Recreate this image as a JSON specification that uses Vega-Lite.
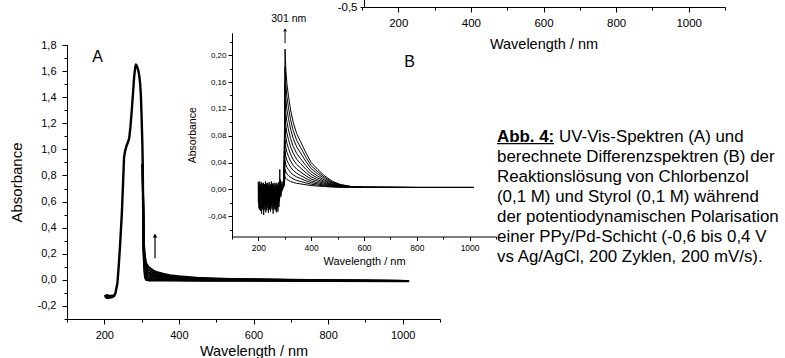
{
"$schema": "https://vega.github.io/schema/vega-lite/v6.json",
"width": 785, "height": 358, "autosize": {"type": "none"}, "padding": 0, "background": "white",
"config": {"view": {"stroke": null}, "locale": {"number": {"decimal": ",", "thousands": ".", "grouping": [3], "currency": ["", " €"], "minus": "-"}}, "axis": {"domainColor": "black", "tickColor": "black", "labelColor": "black", "titleColor": "black", "labelFont": "Liberation Sans", "titleFont": "Liberation Sans", "titleFontWeight": "normal", "grid": false, "domainWidth": 1, "tickWidth": 1, "labelOverlap": false, "labelFlush": false}},
"datasets": {
"A_main": [
{"w":202,"a":-0.115},{"w":204,"a":-0.132},{"w":205,"a":-0.12},{"w":207,"a":-0.138},{"w":208,"a":-0.118},{"w":210,"a":-0.14},{"w":212,"a":-0.122},{"w":214,"a":-0.136},{"w":216,"a":-0.121},{"w":218,"a":-0.135},{"w":220,"a":-0.124},{"w":222,"a":-0.132},{"w":224,"a":-0.12},{"w":226,"a":-0.125},{"w":228,"a":-0.112},{"w":230,"a":-0.1},{"w":232,"a":-0.07},{"w":235,"a":-0.03},{"w":238,"a":0.08},{"w":242,"a":0.25},{"w":247,"a":0.51},{"w":250,"a":0.72},{"w":253,"a":0.94},{"w":256,"a":0.99},{"w":260,"a":1.03},{"w":264,"a":1.06},{"w":267,"a":1.09},{"w":270,"a":1.17},{"w":273,"a":1.275},{"w":277,"a":1.43},{"w":280,"a":1.556},{"w":283,"a":1.63},{"w":285,"a":1.65},{"w":288,"a":1.635},{"w":291,"a":1.607},{"w":294,"a":1.56},{"w":296,"a":1.505},{"w":298,"a":1.42},{"w":300,"a":1.25},{"w":302,"a":1.05},{"w":303,"a":0.89},{"w":304,"a":0.6},{"w":305,"a":0.35},{"w":306,"a":0.18},{"w":308,"a":0.06},{"w":310,"a":0.015},{"w":313,"a":0.0},{"w":320,"a":-0.003},{"w":360,"a":-0.004},{"w":450,"a":-0.005},{"w":600,"a":-0.006},{"w":800,"a":-0.008},{"w":1017,"a":-0.01}
],
"A_tail": [
{"s":"t1","w":303,"a":0.89},{"s":"t1","w":304,"a":0.6},{"s":"t1","w":305,"a":0.4},{"s":"t1","w":306,"a":0.28},{"s":"t1","w":309,"a":0.18},{"s":"t1","w":312,"a":0.13},{"s":"t1","w":318,"a":0.1},{"s":"t1","w":330,"a":0.075},{"s":"t1","w":340,"a":0.06},{"s":"t1","w":360,"a":0.045},{"s":"t1","w":376,"a":0.035},{"s":"t1","w":400,"a":0.027},{"s":"t1","w":448,"a":0.017},{"s":"t1","w":500,"a":0.01},{"s":"t1","w":537,"a":0.007},{"s":"t1","w":600,"a":0.004},{"s":"t1","w":700,"a":0.0},{"s":"t1","w":850,"a":-0.005},{"s":"t1","w":1017,"a":-0.009},
{"s":"t2","w":303,"a":0.89},{"s":"t2","w":304,"a":0.6},{"s":"t2","w":305,"a":0.39},{"s":"t2","w":306,"a":0.25},{"s":"t2","w":309,"a":0.15},{"s":"t2","w":312,"a":0.105},{"s":"t2","w":318,"a":0.08},{"s":"t2","w":330,"a":0.058},{"s":"t2","w":340,"a":0.047},{"s":"t2","w":360,"a":0.035},{"s":"t2","w":376,"a":0.027},{"s":"t2","w":400,"a":0.02},{"s":"t2","w":448,"a":0.012},{"s":"t2","w":500,"a":0.007},{"s":"t2","w":537,"a":0.005},{"s":"t2","w":600,"a":0.002},{"s":"t2","w":700,"a":-0.001},{"s":"t2","w":850,"a":-0.005},{"s":"t2","w":1017,"a":-0.009},
{"s":"t3","w":303,"a":0.89},{"s":"t3","w":304,"a":0.6},{"s":"t3","w":305,"a":0.38},{"s":"t3","w":306,"a":0.23},{"s":"t3","w":309,"a":0.12},{"s":"t3","w":312,"a":0.08},{"s":"t3","w":318,"a":0.06},{"s":"t3","w":330,"a":0.043},{"s":"t3","w":340,"a":0.034},{"s":"t3","w":360,"a":0.025},{"s":"t3","w":376,"a":0.019},{"s":"t3","w":400,"a":0.014},{"s":"t3","w":448,"a":0.008},{"s":"t3","w":500,"a":0.004},{"s":"t3","w":537,"a":0.002},{"s":"t3","w":600,"a":0.0},{"s":"t3","w":700,"a":-0.002},{"s":"t3","w":850,"a":-0.006},{"s":"t3","w":1017,"a":-0.009},
{"s":"t4","w":303,"a":0.89},{"s":"t4","w":304,"a":0.6},{"s":"t4","w":305,"a":0.37},{"s":"t4","w":306,"a":0.21},{"s":"t4","w":309,"a":0.095},{"s":"t4","w":312,"a":0.06},{"s":"t4","w":318,"a":0.042},{"s":"t4","w":330,"a":0.03},{"s":"t4","w":340,"a":0.023},{"s":"t4","w":360,"a":0.016},{"s":"t4","w":376,"a":0.012},{"s":"t4","w":400,"a":0.008},{"s":"t4","w":448,"a":0.004},{"s":"t4","w":500,"a":0.001},{"s":"t4","w":537,"a":0.0},{"s":"t4","w":600,"a":-0.001},{"s":"t4","w":700,"a":-0.003},{"s":"t4","w":850,"a":-0.006},{"s":"t4","w":1017,"a":-0.009},
{"s":"t5","w":303,"a":0.89},{"s":"t5","w":304,"a":0.6},{"s":"t5","w":305,"a":0.36},{"s":"t5","w":306,"a":0.2},{"s":"t5","w":309,"a":0.075},{"s":"t5","w":312,"a":0.04},{"s":"t5","w":318,"a":0.025},{"s":"t5","w":330,"a":0.017},{"s":"t5","w":340,"a":0.012},{"s":"t5","w":360,"a":0.008},{"s":"t5","w":376,"a":0.005},{"s":"t5","w":400,"a":0.003},{"s":"t5","w":448,"a":0.0},{"s":"t5","w":500,"a":-0.002},{"s":"t5","w":537,"a":-0.002},{"s":"t5","w":600,"a":-0.003},{"s":"t5","w":700,"a":-0.004},{"s":"t5","w":850,"a":-0.006},{"s":"t5","w":1017,"a":-0.009},
{"s":"t6","w":303,"a":0.89},{"s":"t6","w":304,"a":0.6},{"s":"t6","w":305,"a":0.355},{"s":"t6","w":306,"a":0.19},{"s":"t6","w":309,"a":0.06},{"s":"t6","w":312,"a":0.022},{"s":"t6","w":318,"a":0.01},{"s":"t6","w":330,"a":0.005},{"s":"t6","w":340,"a":0.003},{"s":"t6","w":360,"a":0.001},{"s":"t6","w":376,"a":0.0},{"s":"t6","w":400,"a":-0.001},{"s":"t6","w":448,"a":-0.003},{"s":"t6","w":500,"a":-0.004},{"s":"t6","w":537,"a":-0.004},{"s":"t6","w":600,"a":-0.004},{"s":"t6","w":700,"a":-0.005},{"s":"t6","w":850,"a":-0.007},{"s":"t6","w":1017,"a":-0.009}
],
"B_curves": [
{"s":"c1","w":293,"a":0.003},{"s":"c1","w":297,"a":0.0236},{"s":"c1","w":299,"a":0.0957},{"s":"c1","w":301,"a":0.209},{"s":"c1","w":304,"a":0.1781},{"s":"c1","w":308,"a":0.1575},{"s":"c1","w":314,"a":0.139},{"s":"c1","w":322,"a":0.1184},{"s":"c1","w":332,"a":0.0998},{"s":"c1","w":345,"a":0.0833},{"s":"c1","w":360,"a":0.071},{"s":"c1","w":380,"a":0.0545},{"s":"c1","w":400,"a":0.0401},{"s":"c1","w":425,"a":0.0298},{"s":"c1","w":450,"a":0.0205},{"s":"c1","w":480,"a":0.0123},{"s":"c1","w":510,"a":0.0075},{"s":"c1","w":550,"a":0.0046},{"s":"c1","w":600,"a":0.0034},{"s":"c1","w":800,"a":0.003},{"s":"c1","w":1016,"a":0.003},
{"s":"c2","w":293,"a":0.003},{"s":"c2","w":297,"a":0.021},{"s":"c2","w":299,"a":0.084},{"s":"c2","w":301,"a":0.183},{"s":"c2","w":304,"a":0.156},{"s":"c2","w":308,"a":0.138},{"s":"c2","w":314,"a":0.1218},{"s":"c2","w":322,"a":0.1038},{"s":"c2","w":332,"a":0.0876},{"s":"c2","w":345,"a":0.0732},{"s":"c2","w":360,"a":0.0624},{"s":"c2","w":380,"a":0.048},{"s":"c2","w":400,"a":0.0354},{"s":"c2","w":425,"a":0.0264},{"s":"c2","w":450,"a":0.0183},{"s":"c2","w":480,"a":0.0111},{"s":"c2","w":510,"a":0.007},{"s":"c2","w":550,"a":0.0044},{"s":"c2","w":600,"a":0.0034},{"s":"c2","w":800,"a":0.003},{"s":"c2","w":1016,"a":0.003},
{"s":"c3","w":293,"a":0.003},{"s":"c3","w":297,"a":0.0185},{"s":"c3","w":299,"a":0.0728},{"s":"c3","w":301,"a":0.158},{"s":"c3","w":304,"a":0.1348},{"s":"c3","w":308,"a":0.1193},{"s":"c3","w":314,"a":0.1053},{"s":"c3","w":322,"a":0.0898},{"s":"c3","w":332,"a":0.0759},{"s":"c3","w":345,"a":0.0635},{"s":"c3","w":360,"a":0.0542},{"s":"c3","w":380,"a":0.0418},{"s":"c3","w":400,"a":0.0309},{"s":"c3","w":425,"a":0.0232},{"s":"c3","w":450,"a":0.0162},{"s":"c3","w":480,"a":0.01},{"s":"c3","w":510,"a":0.0064},{"s":"c3","w":550,"a":0.0042},{"s":"c3","w":600,"a":0.0033},{"s":"c3","w":800,"a":0.003},{"s":"c3","w":1016,"a":0.003},
{"s":"c4","w":293,"a":0.003},{"s":"c4","w":297,"a":0.016},{"s":"c4","w":299,"a":0.0615},{"s":"c4","w":301,"a":0.133},{"s":"c4","w":304,"a":0.1135},{"s":"c4","w":308,"a":0.1005},{"s":"c4","w":314,"a":0.0888},{"s":"c4","w":322,"a":0.0758},{"s":"c4","w":332,"a":0.0641},{"s":"c4","w":345,"a":0.0537},{"s":"c4","w":360,"a":0.0459},{"s":"c4","w":380,"a":0.0355},{"s":"c4","w":400,"a":0.0264},{"s":"c4","w":425,"a":0.0199},{"s":"c4","w":450,"a":0.0141},{"s":"c4","w":480,"a":0.0089},{"s":"c4","w":510,"a":0.0059},{"s":"c4","w":550,"a":0.004},{"s":"c4","w":600,"a":0.0033},{"s":"c4","w":800,"a":0.003},{"s":"c4","w":1016,"a":0.003},
{"s":"c5","w":293,"a":0.003},{"s":"c5","w":297,"a":0.0138},{"s":"c5","w":299,"a":0.0516},{"s":"c5","w":301,"a":0.111},{"s":"c5","w":304,"a":0.0948},{"s":"c5","w":308,"a":0.084},{"s":"c5","w":314,"a":0.0743},{"s":"c5","w":322,"a":0.0635},{"s":"c5","w":332,"a":0.0538},{"s":"c5","w":345,"a":0.0451},{"s":"c5","w":360,"a":0.0386},{"s":"c5","w":380,"a":0.03},{"s":"c5","w":400,"a":0.0224},{"s":"c5","w":425,"a":0.017},{"s":"c5","w":450,"a":0.0122},{"s":"c5","w":480,"a":0.0079},{"s":"c5","w":510,"a":0.0054},{"s":"c5","w":550,"a":0.0039},{"s":"c5","w":600,"a":0.0032},{"s":"c5","w":800,"a":0.003},{"s":"c5","w":1016,"a":0.003},
{"s":"c6","w":293,"a":0.003},{"s":"c6","w":297,"a":0.0118},{"s":"c6","w":299,"a":0.0426},{"s":"c6","w":301,"a":0.091},{"s":"c6","w":304,"a":0.0778},{"s":"c6","w":308,"a":0.069},{"s":"c6","w":314,"a":0.0611},{"s":"c6","w":322,"a":0.0523},{"s":"c6","w":332,"a":0.0444},{"s":"c6","w":345,"a":0.0373},{"s":"c6","w":360,"a":0.032},{"s":"c6","w":380,"a":0.025},{"s":"c6","w":400,"a":0.0188},{"s":"c6","w":425,"a":0.0144},{"s":"c6","w":450,"a":0.0105},{"s":"c6","w":480,"a":0.007},{"s":"c6","w":510,"a":0.0049},{"s":"c6","w":550,"a":0.0037},{"s":"c6","w":600,"a":0.0032},{"s":"c6","w":800,"a":0.003},{"s":"c6","w":1016,"a":0.003},
{"s":"c7","w":293,"a":0.003},{"s":"c7","w":297,"a":0.01},{"s":"c7","w":299,"a":0.0345},{"s":"c7","w":301,"a":0.073},{"s":"c7","w":304,"a":0.0625},{"s":"c7","w":308,"a":0.0555},{"s":"c7","w":314,"a":0.0492},{"s":"c7","w":322,"a":0.0422},{"s":"c7","w":332,"a":0.0359},{"s":"c7","w":345,"a":0.0303},{"s":"c7","w":360,"a":0.0261},{"s":"c7","w":380,"a":0.0205},{"s":"c7","w":400,"a":0.0156},{"s":"c7","w":425,"a":0.0121},{"s":"c7","w":450,"a":0.009},{"s":"c7","w":480,"a":0.0062},{"s":"c7","w":510,"a":0.0045},{"s":"c7","w":550,"a":0.0036},{"s":"c7","w":600,"a":0.0031},{"s":"c7","w":800,"a":0.003},{"s":"c7","w":1016,"a":0.003},
{"s":"c8","w":293,"a":0.003},{"s":"c8","w":297,"a":0.0084},{"s":"c8","w":299,"a":0.0273},{"s":"c8","w":301,"a":0.057},{"s":"c8","w":304,"a":0.0489},{"s":"c8","w":308,"a":0.0435},{"s":"c8","w":314,"a":0.0386},{"s":"c8","w":322,"a":0.0332},{"s":"c8","w":332,"a":0.0284},{"s":"c8","w":345,"a":0.0241},{"s":"c8","w":360,"a":0.0208},{"s":"c8","w":380,"a":0.0165},{"s":"c8","w":400,"a":0.0127},{"s":"c8","w":425,"a":0.01},{"s":"c8","w":450,"a":0.0076},{"s":"c8","w":480,"a":0.0054},{"s":"c8","w":510,"a":0.0042},{"s":"c8","w":550,"a":0.0034},{"s":"c8","w":600,"a":0.0031},{"s":"c8","w":800,"a":0.003},{"s":"c8","w":1016,"a":0.003},
{"s":"c9","w":293,"a":0.003},{"s":"c9","w":297,"a":0.007},{"s":"c9","w":299,"a":0.021},{"s":"c9","w":301,"a":0.043},{"s":"c9","w":304,"a":0.037},{"s":"c9","w":308,"a":0.033},{"s":"c9","w":314,"a":0.0294},{"s":"c9","w":322,"a":0.0254},{"s":"c9","w":332,"a":0.0218},{"s":"c9","w":345,"a":0.0186},{"s":"c9","w":360,"a":0.0162},{"s":"c9","w":380,"a":0.013},{"s":"c9","w":400,"a":0.0102},{"s":"c9","w":425,"a":0.0082},{"s":"c9","w":450,"a":0.0064},{"s":"c9","w":480,"a":0.0048},{"s":"c9","w":510,"a":0.0039},{"s":"c9","w":550,"a":0.0033},{"s":"c9","w":600,"a":0.0031},{"s":"c9","w":800,"a":0.003},{"s":"c9","w":1016,"a":0.003},
{"s":"c10","w":293,"a":0.003},{"s":"c10","w":297,"a":0.0057},{"s":"c10","w":299,"a":0.0152},{"s":"c10","w":301,"a":0.03},{"s":"c10","w":304,"a":0.026},{"s":"c10","w":308,"a":0.0233},{"s":"c10","w":314,"a":0.0208},{"s":"c10","w":322,"a":0.0181},{"s":"c10","w":332,"a":0.0157},{"s":"c10","w":345,"a":0.0135},{"s":"c10","w":360,"a":0.0119},{"s":"c10","w":380,"a":0.0098},{"s":"c10","w":400,"a":0.0079},{"s":"c10","w":425,"a":0.0065},{"s":"c10","w":450,"a":0.0053},{"s":"c10","w":480,"a":0.0042},{"s":"c10","w":510,"a":0.0036},{"s":"c10","w":550,"a":0.0032},{"s":"c10","w":600,"a":0.003},{"s":"c10","w":800,"a":0.003},{"s":"c10","w":1016,"a":0.003},
{"s":"c11","w":293,"a":0.003},{"s":"c11","w":297,"a":0.0046},{"s":"c11","w":299,"a":0.0102},{"s":"c11","w":301,"a":0.019},{"s":"c11","w":304,"a":0.0166},{"s":"c11","w":308,"a":0.015},{"s":"c11","w":314,"a":0.0136},{"s":"c11","w":322,"a":0.012},{"s":"c11","w":332,"a":0.0105},{"s":"c11","w":345,"a":0.0092},{"s":"c11","w":360,"a":0.0083},{"s":"c11","w":380,"a":0.007},{"s":"c11","w":400,"a":0.0059},{"s":"c11","w":425,"a":0.0051},{"s":"c11","w":450,"a":0.0044},{"s":"c11","w":480,"a":0.0037},{"s":"c11","w":510,"a":0.0034},{"s":"c11","w":550,"a":0.0031},{"s":"c11","w":600,"a":0.003},{"s":"c11","w":800,"a":0.003},{"s":"c11","w":1016,"a":0.003}
],
"B_noise": [
{"w":199,"a":0.012},{"w":200,"a":-0.02},{"w":201,"a":0.01},{"w":202,"a":-0.028},{"w":203,"a":0.006},{"w":204,"a":-0.03},{"w":205,"a":0.012},{"w":206,"a":-0.018},{"w":207,"a":0.008},{"w":208,"a":-0.032},{"w":209,"a":0.004},{"w":210,"a":-0.025},{"w":211,"a":0.011},{"w":212,"a":-0.036},{"w":213,"a":0.005},{"w":214,"a":-0.022},{"w":215,"a":0.009},{"w":216,"a":-0.03},{"w":217,"a":0.002},{"w":218,"a":-0.027},{"w":219,"a":0.01},{"w":220,"a":-0.038},{"w":221,"a":0.006},{"w":222,"a":-0.024},{"w":223,"a":0.008},{"w":224,"a":-0.03},{"w":225,"a":0.003},{"w":226,"a":-0.02},{"w":227,"a":0.012},{"w":228,"a":-0.034},{"w":229,"a":0.004},{"w":230,"a":-0.026},{"w":231,"a":0.009},{"w":232,"a":-0.031},{"w":233,"a":0.005},{"w":234,"a":-0.022},{"w":235,"a":0.01},{"w":236,"a":-0.028},{"w":237,"a":0.003},{"w":238,"a":-0.035},{"w":239,"a":0.007},{"w":240,"a":-0.025},{"w":241,"a":0.011},{"w":242,"a":-0.03},{"w":243,"a":0.004},{"w":244,"a":-0.02},{"w":245,"a":0.008},{"w":246,"a":-0.033},{"w":247,"a":0.006},{"w":248,"a":-0.027},{"w":249,"a":0.012},{"w":250,"a":-0.024},{"w":251,"a":0.005},{"w":252,"a":-0.03},{"w":253,"a":0.009},{"w":254,"a":-0.021},{"w":255,"a":0.004},{"w":256,"a":-0.036},{"w":257,"a":0.007},{"w":258,"a":-0.026},{"w":259,"a":0.01},{"w":260,"a":-0.029},{"w":261,"a":0.003},{"w":262,"a":-0.023},{"w":263,"a":0.008},{"w":264,"a":-0.031},{"w":265,"a":0.005},{"w":266,"a":-0.025},{"w":267,"a":0.01},{"w":268,"a":-0.034},{"w":269,"a":0.006},{"w":270,"a":-0.02},{"w":271,"a":0.009},{"w":272,"a":-0.028},{"w":273,"a":0.004},{"w":274,"a":-0.033},{"w":275,"a":0.007},{"w":276,"a":-0.022},{"w":277,"a":0.011},{"w":278,"a":-0.026},{"w":279,"a":0.005},{"w":280,"a":-0.018},{"w":281,"a":0.03},{"w":282,"a":-0.012},{"w":283,"a":0.015},{"w":284,"a":-0.008},{"w":285,"a":0.006},{"w":286,"a":-0.01},{"w":287,"a":0.008},{"w":288,"a":-0.004},{"w":289,"a":0.012},{"w":290,"a":-0.002},{"w":291,"a":0.005},{"w":292,"a":0.0},{"w":293,"a":0.003}
],
"caption": [
{"line":0,"part":"head","col":"start","text":"Abb. 4:"},
{"line":0,"part":"body","col":"after","text":"UV-Vis-Spektren (A) und"},
{"line":1,"part":"body","col":"start","text":"berechnete Differenzspektren (B) der"},
{"line":2,"part":"body","col":"start","text":"Reaktionslösung von Chlorbenzol"},
{"line":3,"part":"body","col":"start","text":"(0,1 M) und Styrol (0,1 M) während"},
{"line":4,"part":"body","col":"start","text":"der potentiodynamischen Polarisation"},
{"line":5,"part":"body","col":"start","text":"einer PPy/Pd-Schicht (-0,6 bis 0,4 V"},
{"line":6,"part":"body","col":"start","text":"vs Ag/AgCl, 200 Zyklen, 200 mV/s)."}
]
},
"layer": [
{
"data": {"values": [{"w": 100, "a": -0.5}]},
"mark": {"type": "point", "opacity": 0},
"encoding": {
"x": {"field": "w", "type": "quantitative", "scale": {"domain": [100, 1100], "range": [362, 725], "nice": false, "zero": false},
 "axis": {"orient": "bottom", "offset": -351, "values": [100,200,300,400,500,600,700,800,900,1000,1100], "format": "d", "labelExpr": "datum.value % 200 == 0 && datum.value >= 200 && datum.value <= 1000 ? datum.label : ''", "tickSize": {"condition": {"test": "datum.value % 200 == 0", "value": 5}, "value": 3}, "title": "Wavelength / nm", "labelFontSize": 11.5, "titleFontSize": 14.5, "labelPadding": 5, "titlePadding": 9}},
"y": {"field": "a", "type": "quantitative", "scale": {"domain": [-0.5, -0.4], "range": [7, -30], "nice": false, "zero": false},
 "axis": {"orient": "left", "offset": -364, "values": [-0.5], "format": ".1f", "title": null, "tickSize": 4, "labelFontSize": 11.5, "labelPadding": 3}}
}
},
{
"resolve": {"axis": {"y": "independent"}},
"layer": [
{"data": {"name": "A_tail"}, "mark": {"type": "line", "color": "black", "strokeWidth": 2, "strokeJoin": "round"},
 "encoding": {
 "x": {"field": "w", "type": "quantitative", "scale": {"domain": [100, 1100], "range": [67, 440], "nice": false, "zero": false},
  "axis": {"orient": "bottom", "offset": -39, "values": [100,200,300,400,500,600,700,800,900,1000,1100], "format": "d", "labelExpr": "datum.value % 200 == 0 && datum.value >= 200 && datum.value <= 1000 ? datum.label : ''", "tickSize": {"condition": {"test": "datum.value % 200 == 0", "value": 5}, "value": 3}, "title": "Wavelength / nm", "labelFontSize": 11, "titleFontSize": 14.5, "labelPadding": 5, "titlePadding": 4}},
 "y": {"field": "a", "type": "quantitative", "scale": {"domain": [-0.3, 1.8], "range": [319, 45], "nice": false, "zero": false},
  "axis": {"orient": "left", "offset": -67, "values": [-0.2,0,0.2,0.4,0.6,0.8,1,1.2,1.4,1.6,1.8], "format": ".1f", "tickSize": 5, "title": "Absorbance", "labelFontSize": 11, "titleFontSize": 15, "labelPadding": 6, "titlePadding": 13}},
 "detail": {"field": "s"}}},
{"data": {"name": "A_main"}, "mark": {"type": "line", "color": "black", "strokeWidth": 2.4, "strokeJoin": "round"},
 "encoding": {"x": {"field": "w", "type": "quantitative"}, "y": {"field": "a", "type": "quantitative",
  "axis": {"orient": "left", "offset": -67, "values": [-0.3,-0.1,0.1,0.3,0.5,0.7,0.9,1.1,1.3,1.5,1.7], "labels": false, "tickSize": 3, "title": null, "domain": true}}}},
{"data": {"values": [{}]}, "mark": {"type": "rule", "color": "black", "strokeWidth": 1.2},
 "encoding": {"x": {"datum": 336, "type": "quantitative"}, "y": {"datum": 0.165, "type": "quantitative", "axis": null}, "y2": {"datum": 0.33}}},
{"data": {"values": [{}]}, "mark": {"type": "point", "shape": "triangle-up", "filled": true, "color": "black", "size": 20, "opacity": 1},
 "encoding": {"x": {"datum": 336, "type": "quantitative"}, "y": {"datum": 0.34, "type": "quantitative", "axis": null}}},
{"data": {"values": [{}]}, "mark": {"type": "text", "font": "Liberation Sans", "fontSize": 16, "color": "black", "baseline": "middle", "align": "center"},
 "encoding": {"x": {"datum": 182, "type": "quantitative"}, "y": {"datum": 1.71, "type": "quantitative", "axis": null}, "text": {"value": "A"}}}
]
},
{
"resolve": {"axis": {"y": "independent"}},
"layer": [
{"data": {"name": "B_curves"}, "mark": {"type": "line", "color": "black", "strokeWidth": 1, "strokeJoin": "round"},
 "encoding": {
 "x": {"field": "w", "type": "quantitative", "scale": {"domain": [100, 1100], "range": [232, 496], "nice": false, "zero": false},
  "axis": {"orient": "bottom", "offset": -121.5, "values": [100,200,300,400,500,600,700,800,900,1000,1100], "format": "d", "labelExpr": "datum.value % 200 == 0 && datum.value >= 200 && datum.value <= 1000 ? datum.label : ''", "tickSize": {"condition": {"test": "datum.value % 200 == 0", "value": 4}, "value": 2.5}, "title": "Wavelength / nm", "labelFontSize": 8.5, "titleFontSize": 11, "labelPadding": 3, "titlePadding": 3}},
 "y": {"field": "a", "type": "quantitative", "scale": {"domain": [-0.07, 0.233], "range": [236.5, 33], "nice": false, "zero": false},
  "axis": {"orient": "left", "offset": -232, "values": [-0.04,0,0.04,0.08,0.12,0.16,0.2], "format": ".2f", "tickSize": 4, "title": "Absorbance", "labelFontSize": 8, "titleFontSize": 10.5, "labelPadding": 2, "titlePadding": 10}},
 "detail": {"field": "s"}}},
{"data": {"name": "B_noise"}, "mark": {"type": "line", "color": "black", "strokeWidth": 0.9},
 "encoding": {"x": {"field": "w", "type": "quantitative"}, "y": {"field": "a", "type": "quantitative",
  "axis": {"orient": "left", "offset": -232, "values": [-0.06,-0.02,0.02,0.06,0.1,0.14,0.18,0.22], "labels": false, "tickSize": 2.5, "title": null, "domain": true}}}},
{"data": {"values": [{}]}, "mark": {"type": "rule", "color": "black", "strokeWidth": 1},
 "encoding": {"x": {"datum": 301, "type": "quantitative"}, "y": {"datum": 0.218, "type": "quantitative", "axis": null}, "y2": {"datum": 0.235}}},
{"data": {"values": [{}]}, "mark": {"type": "point", "shape": "triangle-up", "filled": true, "color": "black", "size": 14, "opacity": 1},
 "encoding": {"x": {"datum": 301, "type": "quantitative"}, "y": {"datum": 0.2375, "type": "quantitative", "axis": null}}},
{"data": {"values": [{}]}, "mark": {"type": "text", "font": "Liberation Sans", "fontSize": 10.5, "color": "black", "baseline": "middle", "align": "center"},
 "encoding": {"x": {"datum": 315, "type": "quantitative"}, "y": {"datum": 0.254, "type": "quantitative", "axis": null}, "text": {"value": "301 nm"}}},
{"data": {"values": [{}]}, "mark": {"type": "text", "font": "Liberation Sans", "fontSize": 16, "color": "black", "baseline": "middle", "align": "center"},
 "encoding": {"x": {"datum": 773, "type": "quantitative"}, "y": {"datum": 0.19, "type": "quantitative", "axis": null}, "text": {"value": "B"}}}
]
},
{
"data": {"name": "caption"},
"layer": [
{"transform": [{"filter": "datum.part == 'head'"}], "mark": {"type": "text", "align": "left", "baseline": "alphabetic", "font": "Liberation Sans", "fontSize": 16.9, "fontWeight": "bold", "color": "black"},
 "encoding": {"x": {"field": "col", "type": "nominal", "scale": {"type": "point", "domain": ["start", "after"], "range": [497, 559], "padding": 0}, "axis": null},
  "y": {"field": "line", "type": "quantitative", "scale": {"domain": [0, 6], "range": [141.7, 261.7], "nice": false, "zero": false}, "axis": null},
  "text": {"field": "text"}}},
{"transform": [{"filter": "datum.part != 'head'"}], "mark": {"type": "text", "align": "left", "baseline": "alphabetic", "font": "Liberation Sans", "fontSize": 16.9, "color": "black"},
 "encoding": {"x": {"field": "col", "type": "nominal", "axis": null}, "y": {"field": "line", "type": "quantitative", "axis": null}, "text": {"field": "text"}}},
{"data": {"values": [{}]}, "mark": {"type": "rule", "color": "black", "strokeWidth": 1.3, "x2Offset": -5, "yOffset": 2},
 "encoding": {"x": {"datum": "start", "type": "nominal"}, "x2": {"datum": "after"}, "y": {"datum": 0, "type": "quantitative"}}}
]
}
],
"resolve": {"scale": {"x": "independent", "y": "independent"}, "axis": {"x": "independent", "y": "independent"}}
}
